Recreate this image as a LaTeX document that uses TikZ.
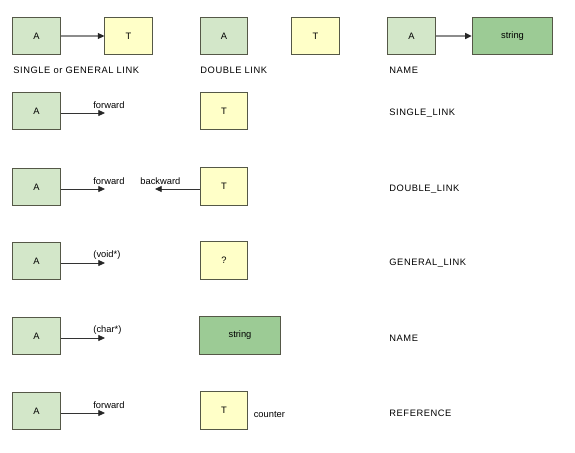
\documentclass[tikz,border=0pt]{standalone}
\usepackage{fontspec}
\setmainfont{Liberation Sans}
\newfontfamily\capsfont[LetterSpace=6]{Liberation Sans}
\usetikzlibrary{arrows.meta, positioning}
\definecolor{cgreen}{HTML}{D3E7C9}
\definecolor{cyellow}{HTML}{FFFFC8}
\definecolor{cdark}{HTML}{9CCB95}
\definecolor{cedge}{HTML}{555847}
\definecolor{cgrey}{HTML}{8C8C8C}
\tikzset{
  every picture/.style={font=\fontsize{7}{8}\selectfont, line width=0.6pt},
  box/.style={draw=cedge, fill=#1, minimum width=35.5pt, minimum height=28pt, inner sep=0pt},
  box/.default=cgreen,
  wide/.style={box=cdark, minimum width=60.5pt},
  arrow/.style={-{Triangle[length=5pt, width=4.5pt, color=black!85]}, draw=black!80},
  link/.style={arrow, draw=cgrey, line width=1pt},
  label/.style={anchor=west, inner sep=0pt},
  kind/.style={label, font=\fontsize{7}{8}\selectfont\capsfont},
}
\begin{document}
\begin{tikzpicture}[x=0.75pt, y=-0.75pt]
  \useasboundingbox (0,0) rectangle (575,453);
  % legend row
  \node[box] (la) at (36.5,36) {A};
  \node[box=cyellow] (lt) at (128.5,36) {T};
  \draw[link] (la) -- (lt);
  \node[kind] (ls) at (13,70) {SINGLE or GENERAL LINK};
  \node[box] (da) at (224,36) {A};
  \node[box=cyellow] (dt) at (315.5,36) {T};
  \node[kind] (dl) at (200,70) {DOUBLE LINK};
  \node[box] (na) at (411.5,36) {A};
  \node[wide] (ns) at (512.5,36) {string};
  \draw[link] (na) -- (ns);
  \node[kind] (nl) at (389,70) {NAME};
  % one row per kind
  \foreach \y/\txt/\kname [count=\i] in {111/forward/SINGLE\_LINK, 187/forward/DOUBLE\_LINK, 261/(void*)/GENERAL\_LINK, 336/(char*)/NAME, 411/forward/REFERENCE} {
    \node[box] (a\i) at (36.5,\y) {A};
    \coordinate (f\i) at (105,\y+2);
    \draw[arrow] (a\i.east |- f\i) -- (f\i);
    \node[label] (w\i) at (93,\y-6) {\txt};
    \node[kind] (k\i) at (389,\y+2) {\kname};
  }
  \node[box=cyellow] (t1) at (224,111) {T};
  \node[box=cyellow] (t2) at (224,186.5) {T};
  \coordinate (b2) at (155,189);
  \draw[arrow] (t2.west |- b2) -- (b2);
  \node[label] (bw) at (140,181) {backward};
  \node[box=cyellow] (t3) at (224,260.5) {?};
  \node[wide] (t4) at (240,335.5) {string};
  \node[box=cyellow] (t5) at (224,410.5) {T};
  \node[label, right=4pt of t5.east, yshift=-3pt] (cn) {counter};
\end{tikzpicture}
\end{document}
